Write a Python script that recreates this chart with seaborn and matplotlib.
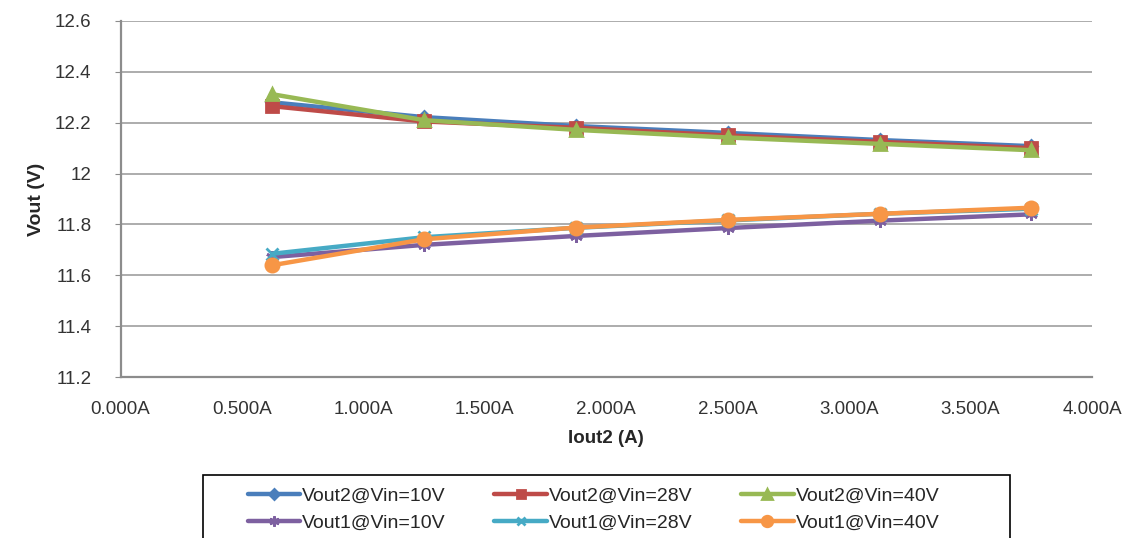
import numpy as np
import matplotlib
matplotlib.use('Agg')
import matplotlib.pyplot as plt
import seaborn as sns
import pandas as pd
from matplotlib.ticker import FuncFormatter
from matplotlib.patches import Rectangle

# Output current (A) and measured output voltages (V)
iout2 = [0.625, 1.25, 1.875, 2.5, 3.125, 3.75]
vout2_vin10 = [12.28, 12.222, 12.187, 12.16, 12.132, 12.108]
vout2_vin28 = [12.265, 12.205, 12.18, 12.15, 12.125, 12.10]
vout2_vin40 = [12.312, 12.21, 12.172, 12.142, 12.117, 12.092]
vout1_vin10 = [11.672, 11.72, 11.755, 11.786, 11.815, 11.84]
vout1_vin28 = [11.685, 11.75, 11.787, 11.816, 11.842, 11.862]
vout1_vin40 = [11.64, 11.742, 11.788, 11.818, 11.842, 11.866]

series_names = ['Vout2@Vin=10V', 'Vout2@Vin=28V', 'Vout2@Vin=40V',
                'Vout1@Vin=10V', 'Vout1@Vin=28V', 'Vout1@Vin=40V']
series_values = [vout2_vin10, vout2_vin28, vout2_vin40,
                 vout1_vin10, vout1_vin28, vout1_vin40]
colors = ['#4A7EBB', '#BE4B48', '#98B954', '#7D60A0', '#46AAC5', '#F79646']
markers = ['D', 's', '^', (6, 2, 0), 'x', 'o']
msizes = [6, 8, 9, 9, 8, 9.5]

sns.set_style('white')
plt.rcParams['font.family'] = ['Liberation Sans', 'DejaVu Sans']

fig = plt.figure(figsize=(11.27, 5.38), dpi=100)
ax = fig.add_axes([0.107, 0.299, 0.862, 0.662])

for name, vals, c, m, ms in zip(series_names, series_values, colors, markers, msizes):
    df = pd.DataFrame({'Iout2': iout2, 'Vout': vals})
    sns.lineplot(data=df, x='Iout2', y='Vout', ax=ax, color=c, marker=m,
                 markersize=ms, linewidth=3.2, markeredgecolor=c,
                 markeredgewidth=2, label=name, legend=False)

ax.set_xlim(0, 4)
ax.set_ylim(11.2, 12.6)
ax.set_xticks(np.arange(0, 4.01, 0.5))
ax.set_yticks(np.arange(11.2, 12.61, 0.2))
ax.xaxis.set_major_formatter(FuncFormatter(lambda v, p: '%.3fA' % v))
ax.yaxis.set_major_formatter(FuncFormatter(lambda v, p: ('%g' % round(v, 1))))
ax.grid(axis='y', color='#A6A6A6', linewidth=1.3)
ax.grid(axis='x', visible=False)
for s in ['top', 'right']:
    ax.spines[s].set_visible(False)
for s in ['left', 'bottom']:
    ax.spines[s].set_color('#8C8C8C')
    ax.spines[s].set_linewidth(1.6)
ax.tick_params(axis='y', which='major', left=True, length=4, color='#8C8C8C',
               pad=17, labelsize=13.5, labelcolor='#333333')
ax.tick_params(axis='x', which='major', bottom=False, pad=14, labelsize=13.5,
               labelcolor='#333333')
ax.set_xlabel('Iout2 (A)', fontsize=13.5, fontweight='bold', labelpad=8)
ax.set_ylabel('Vout (V)', fontsize=14, fontweight='bold', labelpad=7)

# legend box, cut off by the bottom of the figure
W, H = 1127.0, 538.0
fig.patches.append(Rectangle((203 / W, 1 - 548 / H), 807 / W, 73 / H,
                             transform=fig.transFigure, fill=False,
                             edgecolor='black', linewidth=1.2))

# legend is filled column by column, so reorder to read row by row
handles, labels = ax.get_legend_handles_labels()
order = [0, 3, 1, 4, 2, 5]
leg = fig.legend([handles[i] for i in order], [labels[i] for i in order],
                 loc='upper left', ncol=3,
                 bbox_to_anchor=(238 / W, 1 - 477 / H),
                 fontsize=14, frameon=False,
                 handlelength=2.7, handletextpad=0.1, markerscale=0.8,
                 columnspacing=2.5, borderpad=0, labelspacing=0.5)

fig.savefig('out.png', dpi=100)
